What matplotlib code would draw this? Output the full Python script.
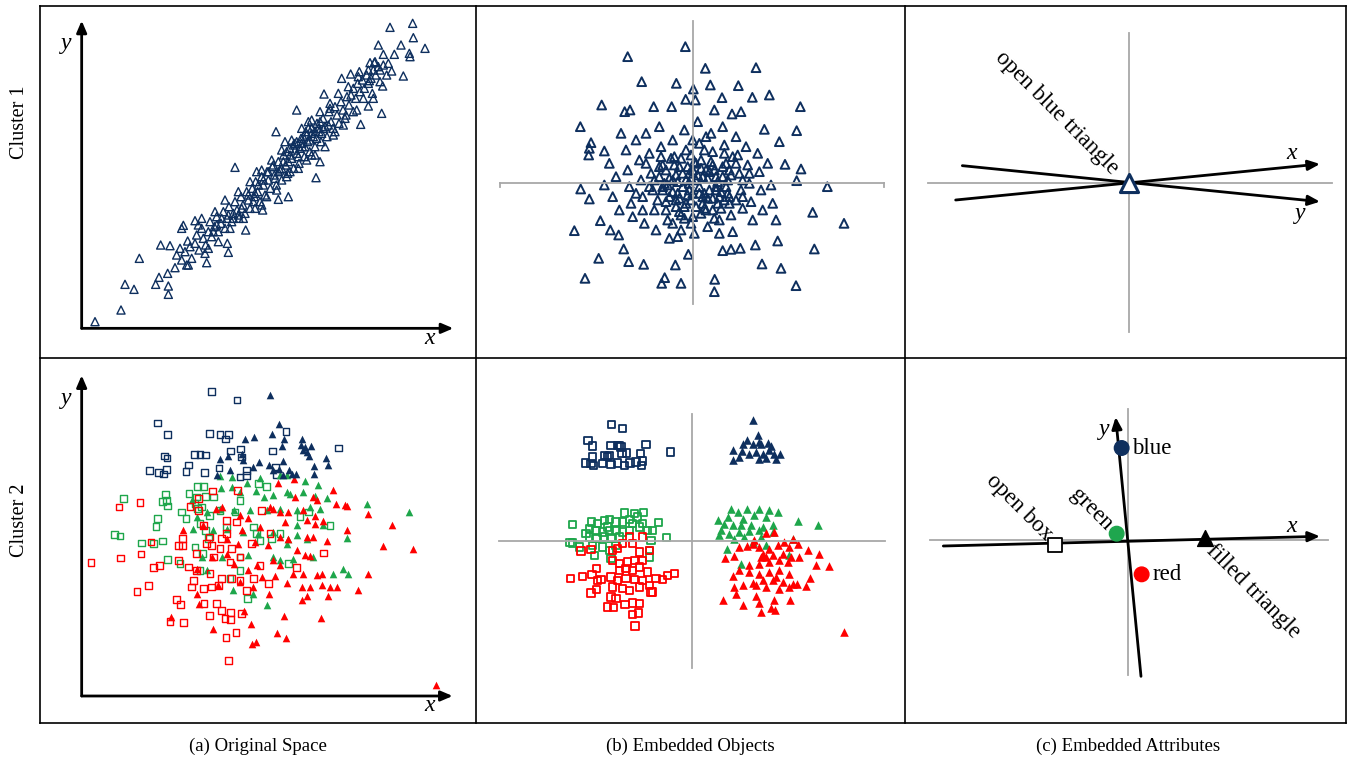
import numpy as np
import matplotlib.pyplot as plt

plt.rcParams['font.family'] = ['Liberation Serif', 'DejaVu Serif']

W, H = 1351, 764
navy = '#0e2f5e'
green = '#1ea64b'
red = '#ff0000'
gray = '#a8a8a8'

# ---- data (panel-local units, origin at the axes crossing) ----

# (a) cluster 1: original space
a1_pts = np.array([
    (40,20),(118,55),(130,132),(157,117),(173,210),(222,132),(232,153),(260,127),(260,102),(258,165),
    (237,250),(265,248),(280,182),(315,190),(375,197),(440,228),(437,255),(305,309),(340,323),(460,483),
    (583,590),(645,655),(727,703),(703,452),(715,500),(620,395),(590,387),(543,355),(492,295),(837,612),
    (900,645),(965,757),(925,903),(993,915),(995,872),(958,850),(1030,840),(890,850),(905,822),(938,822),
    (983,825),(985,815),(780,750),(807,763),(833,770),(863,743),(865,797),(878,797),(920,795),(930,772),
    (895,775),(903,727),(875,690),(860,667),(825,655),(793,640),
    (285,220),(295,240),(300,205),(310,230),(318,262),(325,245),(330,210),(340,255),(345,280),(352,235),
    (360,300),(365,270),(372,250),(380,290),(385,320),(390,275),(398,305),(405,335),(410,290),(418,315),
    (425,350),(430,300),(436,330),(442,365),(450,320),(455,345),(460,380),(466,355),(472,330),(478,395),
    (484,370),(490,345),(495,410),(500,385),(505,360),(512,420),(518,395),(522,440),(528,410),(535,380),
    (540,455),(545,430),(550,400),(556,470),(560,445),(566,420),(572,485),(578,460),(584,430),(590,500),
    (595,475),(600,445),(606,520),(612,490),(618,465),(624,540),(630,510),(636,480),(640,555),(646,525),
    (652,495),(658,570),(662,545),(668,515),(672,590),(678,560),(684,530),(690,600),(695,575),(700,545),
    (706,615),(712,590),(718,560),(724,630),(730,605),(736,575),(742,650),(748,620),(754,600),(760,665),
    (766,640),(772,615),(778,680),(784,655),(790,630),(796,695),(802,670),(808,700),(815,720),(822,690),
    (828,735),(835,710),(842,745),(848,720),(855,760),(860,735),(868,750),(875,775),(882,760),(890,785),
    (560,470),(575,490),(590,470),(605,500),(615,530),(625,520),(635,550),(645,560),(655,540),(665,575),
    (675,580),(685,565),(690,585),(700,590),(710,600),(720,585),(620,500),(600,480),(580,450),(640,535),
    (650,515),(660,555),(670,545),(680,600),(705,570),(715,620),(725,600),(740,610),(470,340),(480,360),
    (500,400),(515,380),(530,430),(545,445),(520,405),(455,330),(440,340),(420,330),(405,310),(395,290),
    (300,300),(320,190),(350,310),(370,225),(400,350),(410,260),(430,385),(445,300),(470,410),(485,330),
    (505,440),(520,360),(540,475),(555,395),(570,505),(585,415),(600,535),(615,455),(630,565),(650,480),
    (660,600),(675,505),(690,625),(700,520),(715,650),(730,545),(745,675),(760,590),(770,705),(785,610),
    (800,725),(815,650),(830,755),(845,690),(860,775),(872,705),(880,800),(895,740),(905,790),(915,760),
    (360,330),(380,240),(525,470),(540,370),(610,560),(625,470),(680,620),(690,520),(745,660),(755,580),
])

# (b) cluster 1: embedded objects
b1_pts = np.array([
    (-22,410),(-195,380),(38,345),(190,347),(-153,305),(-49,300),(53,295),(137,293),(2,283),(230,265),
    (179,258),(88,257),(-273,235),(-21,252),(8,250),(323,230),(-337,170),(-204,215),(-188,220),(-117,230),
    (-63,230),(65,220),(118,208),(145,215),(312,158),(215,162),(-305,122),(-310,105),(-312,85),(-265,97),
    (260,125),(277,57),(325,43),(312,8),(404,-10),(360,-87),(454,-120),(365,-197),(255,-173),(310,-307),
    (265,-255),(208,-242),(-355,-142),(-282,-225),(-323,-285),(-192,-235),(-147,-243),(-84,-283),(-93,-300),
    (-35,-300),(-52,-245),(66,-288),(65,-325),(-13,-213),(-207,-197),(-336,-17),(-310,-47),(-277,-112),
    (-247,-140),(-222,-155),(188,-185),(115,-198),(90,-202),(143,-195),
    (-250,60),(-230,20),(-240,-40),(-220,-80),(-200,100),(-195,40),(-190,-10),(-185,-60),(-180,-100),(-170,130),
    (-160,70),(-155,10),(-150,-40),(-145,-120),(-140,150),(-130,90),(-125,30),(-120,-20),(-115,-80),(-110,-140),
    (-100,170),(-95,110),(-90,55),(-85,0),(-80,-55),(-75,-110),(-70,-165),(-60,130),(-55,80),(-50,25),
    (-45,-30),(-40,-85),(-35,-140),(-25,160),(-20,100),(-15,50),(-10,0),(-5,-50),(0,-100),(5,-150),
    (15,185),(20,120),(25,70),(30,20),(35,-30),(40,-80),(45,-130),(55,150),(60,95),(65,40),
    (70,-10),(75,-60),(80,-110),(90,170),(95,115),(100,60),(105,10),(110,-40),(115,-95),(120,-145),
    (130,140),(135,85),(140,30),(145,-20),(150,-75),(160,110),(165,55),(170,0),(175,-55),(180,-110),
    (195,90),(200,35),(205,-20),(210,-80),(225,60),(235,-5),(240,-60),(250,-110),(-265,-5),(-215,150),
    (-100,20),(-90,-20),(-80,40),(-70,-40),(-60,10),(-50,-70),(-40,50),(-30,-10),(-20,-60),(-10,30),
    (0,-30),(10,60),(20,-10),(30,-60),(40,40),(50,-20),(60,-80),(70,20),(80,-40),(90,50),
    (100,-10),(110,-60),(-75,-5),(-45,5),(-15,-35),(15,25),(45,-45),(75,5),(105,-30),(-65,75),
    (-35,-95),(-5,85),(25,-90),(55,65),(85,-75),(115,25),(-105,-50),(130,-50),(-25,-105),(65,-105),
    (-95,80),(35,100),(-5,-120),(95,90),(-130,-10),(150,10),(120,80),(-60,-120),(10,-70),(-35,75),
    (-90,-10),(-70,15),(-50,-50),(-30,30),(-10,-20),(10,10),(30,-40),(50,35),(70,-20),(90,20),
    (-80,-80),(-55,55),(-25,-70),(5,65),(35,-75),(60,55),(85,-25),(110,40),(-115,10),(-20,10),
    (0,40),(20,-30),(45,15),(-60,-25),(60,-45),(-5,15),(25,45),(-40,-45),(95,-50),(-100,50),
    (130,60),(150,-40),(-140,60),(-150,-80),(170,30),(-170,-30),(0,130),(40,140),(-45,-160),(80,-150),
])

# (a) cluster 2: original space
a2_blue_sq = np.array([
    (390,914),(466,888),(227,819),(258,785),(383,788),(415,784),(441,784),(432,771),(613,793),(770,744),
    (446,735),(476,741),(572,735),(248,720),(256,714),(338,725),(355,724),(372,723),(320,693),(203,676),
    (230,671),(246,666),(255,680),(313,674),(368,670),(412,684),(495,677),(582,687),(584,665),(475,657),
    (480,717),(495,662),
])
a2_blue_tri = np.array([
    (566,904),(593,817),(489,772),(518,777),(570,787),(608,772),(602,749),(660,772),(658,752),(670,747),
    (687,749),(675,732),(683,719),(440,719),(415,712),(480,727),(485,709),(533,702),(562,692),(603,705),
    (592,682),(623,677),(642,667),(697,689),(697,667),(733,715),(740,692),(445,677),(407,662),(515,687),
    (605,662),(630,667),(575,677),(665,737),
])
a2_green_sq = np.array([
    (125,592),(98,485),(115,480),(180,459),(215,457),(242,465),(258,409),(223,509),(228,532),(251,605),
    (258,570),(242,584),(255,587),(322,607),(347,629),(365,629),(345,597),(372,599),(300,552),(313,532),
    (340,577),(347,562),(360,567),(383,542),(355,517),(372,497),(380,472),(340,447),(363,427),(355,377),
    (445,352),(475,377),(498,292),(515,507),(525,487),(535,467),(530,637),(555,629),(460,552),(475,587),
    (435,507),(745,511),(680,552),(655,539),(620,397),(595,487),(570,472),(295,397),(475,417),(415,557),
    (395,597),
])
a2_green_tri = np.array([
    (415,659),(452,657),(497,639),(535,655),(595,662),(617,662),(670,644),(710,634),(418,624),(450,627),
    (475,612),(522,614),(547,597),(575,604),(615,612),(625,605),(665,612),(700,599),(735,594),(855,577),
    (983,552),(330,587),(345,537),(375,552),(415,562),(458,557),(505,557),(555,557),(595,562),(645,557),
    (685,567),(715,562),(335,502),(395,497),(435,502),(485,492),(530,487),(575,492),(645,482),(675,472),
    (725,512),(795,474),(360,417),(420,417),(500,422),(575,417),(635,412),(695,417),(785,380),(800,365),
    (755,367),(455,317),(515,305),(555,272),(595,407),(375,377),(615,457),(645,512),(620,472),
])
a2_red_sq = np.array([
    (28,400),(112,567),(175,580),(116,414),(178,426),(208,462),(215,385),(233,392),(166,314),(201,332),
    (285,290),(297,275),(265,224),(306,221),(290,451),(303,451),(290,407),(303,472),(325,569),(350,592),
    (393,615),(468,617),(365,512),(383,477),(420,472),(435,487),(450,442),(415,442),(390,452),(345,427),
    (320,387),(335,347),(365,322),(390,327),(345,377),(385,367),(410,332),(420,352),(450,352),(475,347),
    (405,277),(420,257),(447,250),(430,232),(447,229),(480,247),(383,242),(463,191),(433,175),(440,106),
    (725,429),(645,385),(565,487),(540,557),(535,392),(560,337),(495,317),(515,352),(367,277),(330,327),
    (395,417),(445,402),(475,417),(510,457),(465,522),(435,527),(350,557),(375,457),
])
a2_red_tri = np.array([
    (588,639),(637,652),(755,617),(640,597),(693,597),(763,577),(790,572),(795,570),(705,587),(403,562),
    (420,567),(475,542),(500,535),(565,567),(575,560),(595,552),(620,552),(610,522),(665,557),(675,529),
    (700,539),(700,517),(723,524),(795,497),(930,513),(903,450),(993,442),(860,545),(303,497),(365,514),
    (392,417),(435,472),(470,457),(520,462),(560,452),(595,477),(620,472),(675,477),(695,477),(737,464),
    (645,437),(670,422),(685,419),(575,407),(595,392),(635,367),(665,367),(705,362),(720,367),(860,367),
    (345,382),(410,332),(475,342),(515,327),(540,357),(580,359),(615,340),(660,327),(685,327),(720,332),
    (745,327),(765,327),(830,317),(345,307),(353,277),(487,255),(608,239),(717,235),(268,237),(395,202),
    (507,217),(587,189),(613,174),(510,155),(523,162),(740,299),(675,299),(660,287),(563,305),(1063,34),
    (458,397),(525,392),(480,497),(535,507),(435,427),(500,377),
])

# (b) cluster 2: embedded objects
b2_blue_sq = np.array([
    (-242,349),(-208,337),(-312,302),(-298,285),(-243,287),(-223,287),(-213,282),(-138,290),(-65,267),
    (-263,257),(-248,257),(-210,262),(-196,264),(-155,262),(-298,252),(-303,232),(-320,234),(-296,227),
    (-268,232),(-243,230),(-223,234),(-203,227),(-186,234),(-168,237),(-151,227),(-148,240),(-253,254),
    (-218,287),
])
b2_blue_tri = np.array([
    (183,362),(197,317),(164,302),(152,290),(182,292),(207,292),(227,294),(237,284),(124,272),(150,270),
    (172,262),(192,267),(212,262),(247,260),(264,262),(122,244),(142,252),(202,247),(222,249),(252,247),
    (202,297),(232,272),
])
b2_green_sq = np.array([
    (-358,49),(-366,-5),(-358,-6),(-301,57),(-263,62),(-248,64),(-203,84),(-173,82),(-145,85),(-228,57),
    (-208,57),(-188,64),(-100,55),(-118,32),(-133,32),(-76,10),(-123,2),(-308,37),(-288,32),(-268,27),
    (-248,32),(-228,32),(-208,27),(-188,32),(-158,42),(-308,12),(-288,7),(-263,12),(-243,7),(-218,12),
    (-298,-13),(-268,-18),(-248,-28),(-293,-43),(-163,72),(-148,52),(-178,52),(-128,-28),(-128,-48),
    (-338,-18),(-243,-53),(-228,-13),(-283,52),(-253,42),(-318,22),
])
b2_green_tri = np.array([
    (117,97),(137,87),(164,97),(202,97),(232,92),(257,87),(107,72),(152,67),(187,77),(222,72),
    (77,62),(97,52),(122,47),(147,47),(177,47),(212,42),(242,47),(87,32),(112,22),(142,27),
    (172,30),(202,32),(242,27),(82,17),(127,7),(157,12),(317,59),(377,47),(104,-23),(147,-68),
    (292,-43),(302,7),(182,-3),(207,12),(222,-13),
])
b2_red_sq = np.array([
    (-333,-30),(-303,-26),(-365,-113),(-328,-106),(-300,-100),(-286,-83),(-273,-116),(-238,-28),(-223,-23),
    (-208,-8),(-188,12),(-148,12),(-178,-8),(-158,-33),(-128,-28),(-238,-58),(-218,-68),(-193,-63),
    (-173,-58),(-148,-58),(-218,-88),(-198,-83),(-178,-88),(-158,-78),(-133,-93),(-108,-113),(-88,-116),
    (-73,-103),(-53,-98),(-243,-108),(-223,-118),(-198,-113),(-173,-116),(-148,-118),(-128,-133),
    (-238,-138),(-208,-143),(-188,-148),(-158,-138),(-123,-153),(-303,-156),(-286,-146),(-243,-168),
    (-228,-173),(-201,-190),(-178,-186),(-158,-188),(-253,-198),(-236,-200),(-178,-221),(-161,-216),
    (-171,-255),(-283,-118),(-118,-153),
])
b2_red_tri = np.array([
    (187,4),(222,24),(247,27),(302,7),(317,-8),(347,-26),(382,-40),(142,-18),(164,-16),(202,-18),
    (232,-23),(257,-13),(277,-3),(292,-18),(212,-38),(242,-43),(272,-38),(297,-48),(322,-48),(372,-71),
    (412,-76),(100,-51),(127,-45),(172,-73),(202,-68),(232,-63),(262,-58),(287,-63),(142,-88),(172,-93),
    (202,-98),(232,-93),(262,-88),(292,-98),(354,-110),(122,-105),(152,-131),(182,-126),(212,-118),
    (242,-118),(272,-123),(302,-128),(342,-136),(127,-138),(132,-158),(192,-133),(222,-138),(262,-143),
    (292,-138),(314,-130),(192,-166),(247,-176),(294,-176),(92,-176),(200,-186),(237,-200),(249,-206),
    (207,-213),(152,-193),(456,-273),(182,-8),(222,-48),(252,-108),(207,-48),
])

# (c) embedded attributes (x/y attribute directions and feature points)
c1_x_dir = [(-520,-52),(573,56)]
c1_y_dir = [(-500,51),(573,-57)]
c2_x_dir = [(-555,-15),(575,14)]
c2_y_dir = [(38,-406),(-38,372)]
c2_colors = ['blue','green','red']
c2_color_pos = [(-20,279),(-35,22),(40,-100)]
c2_box_pos = (-220,-11)
c2_tri_pos = (230,9)

row_labels = ['Cluster 1','Cluster 2']
captions = ['(a) Original Space','(b) Embedded Objects','(c) Embedded Attributes']

# ---- layout ----
fig = plt.figure(figsize=(W/100, H/100), dpi=100)

def panel(x0, y0, x1, y1, ox, oy, k=3):
    ax = fig.add_axes([x0/W, 1-y1/H, (x1-x0)/W, (y1-y0)/H])
    ax.set_xlim((x0-ox)*k, (x1-ox)*k)
    ax.set_ylim((oy-y1)*k, (oy-y0)*k)
    ax.axis('off')
    return ax

def arrow(ax, p0, p1, lw=2.0):
    ax.annotate('', xy=p1, xytext=p0,
                arrowprops=dict(arrowstyle='-|>,head_length=0.7,head_width=0.3',
                                lw=lw, color='black', shrinkA=0, shrinkB=0))

# frame
bg = fig.add_axes([0, 0, 1, 1])
bg.set_xlim(0, W); bg.set_ylim(H, 0); bg.axis('off')
for x in [40, 476, 905, 1346]:
    bg.plot([x, x], [6, 723], color='black', lw=1.2)
for y in [6, 358, 723]:
    bg.plot([40, 1346], [y, y], color='black', lw=1.2)
bg.text(19, 122, row_labels[0], rotation=90, ha='center', va='center', fontsize=14.5)
bg.text(19, 520, row_labels[1], rotation=90, ha='center', va='center', fontsize=14.5)
for cx, cap in zip([258, 690, 1128], captions):
    bg.text(cx, 746, cap, ha='center', va='center', fontsize=13.5)

# (a) cluster 1
ax = panel(40, 6, 476, 358, 81.67, 328.33)
arrow(ax, (0, 0), (1115, 0)); arrow(ax, (0, 0), (0, 923))
ax.text(-45, 855, 'y', style='italic', fontsize=17, ha='center', va='center')
ax.text(1045, -30, 'x', style='italic', fontsize=17, ha='center', va='center')
ax.scatter(a1_pts[:, 0], a1_pts[:, 1], marker='^', s=34, facecolors='none',
           edgecolors=navy, linewidths=1.0)

# (b) cluster 1
ax = panel(476, 6, 905, 358, 692.67, 183.33)
ax.plot([0, 0], [-362, 488], color=gray, lw=1.3)
ax.plot([-577, 575], [0, 0], color=gray, lw=1.3)
ax.plot([-577, -577], [0, -12], color=gray, lw=1.3)
ax.plot([575, 575], [0, -12], color=gray, lw=1.3)
ax.scatter(b1_pts[:, 0], b1_pts[:, 1], marker='^', s=40, facecolors='none',
           edgecolors=navy, linewidths=1.4)

# (c) cluster 1
ax = panel(905, 6, 1346, 358, 1129, 182.67)
ax.plot([0, 0], [-447, 448], color=gray, lw=1.3)
ax.plot([-604, 608], [0, 0], color=gray, lw=1.3)
arrow(ax, *c1_x_dir); arrow(ax, *c1_y_dir)
ax.text(488, 88, 'x', style='italic', fontsize=17, ha='center', va='center')
ax.text(513, -92, 'y', style='italic', fontsize=17, ha='center', va='center')
ax.scatter([0], [-2], marker='^', s=170, facecolors='white', edgecolors=navy,
           linewidths=2.2, zorder=5)
ax.text(-217, 208, 'open blue triangle', rotation=-45, ha='center', va='center',
        fontsize=16.5, rotation_mode='anchor')

# (a) cluster 2
ax = panel(40, 358, 476, 723, 81.67, 696)
arrow(ax, (0, 0), (1113, 0)); arrow(ax, (0, 0), (0, 962))
ax.text(-45, 892, 'y', style='italic', fontsize=17, ha='center', va='center')
ax.text(1045, -28, 'x', style='italic', fontsize=17, ha='center', va='center')
ax.scatter(a2_blue_sq[:, 0], a2_blue_sq[:, 1], marker='s', s=24, facecolors='none',
           edgecolors=navy, linewidths=1.0)
ax.scatter(a2_green_sq[:, 0], a2_green_sq[:, 1], marker='s', s=24, facecolors='none',
           edgecolors=green, linewidths=1.0)
ax.scatter(a2_green_tri[:, 0], a2_green_tri[:, 1], marker='^', s=30, color=green, linewidths=0)
ax.scatter(a2_red_sq[:, 0], a2_red_sq[:, 1], marker='s', s=24, facecolors='none',
           edgecolors=red, linewidths=1.0)
ax.scatter(a2_red_tri[:, 0], a2_red_tri[:, 1], marker='^', s=30, color=red, linewidths=0)
ax.scatter(a2_blue_tri[:, 0], a2_blue_tri[:, 1], marker='^', s=30, color=navy, linewidths=0)

# (b) cluster 2
ax = panel(476, 358, 905, 723, 692, 541)
ax.plot([0, 0], [-380, 380], color=gray, lw=1.3)
ax.plot([-580, 580], [0, 0], color=gray, lw=1.3)
ax.scatter(b2_blue_sq[:, 0], b2_blue_sq[:, 1], marker='s', s=28, facecolors='none',
           edgecolors=navy, linewidths=1.3)
ax.scatter(b2_blue_tri[:, 0], b2_blue_tri[:, 1], marker='^', s=38, color=navy, linewidths=0)
ax.scatter(b2_green_sq[:, 0], b2_green_sq[:, 1], marker='s', s=28, facecolors='none',
           edgecolors=green, linewidths=1.3)
ax.scatter(b2_red_sq[:, 0], b2_red_sq[:, 1], marker='s', s=28, facecolors='none',
           edgecolors=red, linewidths=1.3)
ax.scatter(b2_green_tri[:, 0], b2_green_tri[:, 1], marker='^', s=38, color=green, linewidths=0)
ax.scatter(b2_red_tri[:, 0], b2_red_tri[:, 1], marker='^', s=38, color=red, linewidths=0)

# (c) cluster 2
ax = panel(905, 358, 1346, 723, 1128.33, 541)
ax.plot([0, 0], [-403, 397], color=gray, lw=1.3)
ax.plot([-595, 600], [2, 2], color=gray, lw=1.3)
arrow(ax, *c2_x_dir); arrow(ax, *c2_y_dir)
ax.text(490, 42, 'x', style='italic', fontsize=17, ha='center', va='center')
ax.text(-73, 334, 'y', style='italic', fontsize=17, ha='center', va='center')
pos = np.array(c2_color_pos)
ax.scatter(pos[:, 0], pos[:, 1], s=110, c=[navy, '#1fa64e', red], zorder=5)
ax.text(pos[0, 0] + 30, pos[0, 1], c2_colors[0], ha='left', va='center', fontsize=16.5)
ax.text(pos[2, 0] + 32, pos[2, 1], c2_colors[2], ha='left', va='center', fontsize=16.5)
ax.text(-110, 94, c2_colors[1], rotation=-45, ha='center', va='center', fontsize=16.5,
        rotation_mode='anchor')
ax.scatter([c2_box_pos[0]], [c2_box_pos[1]], marker='s', s=110, facecolors='white',
           edgecolors='black', linewidths=1.3, zorder=5)
ax.text(-328, 102, 'open box', rotation=-45, ha='center', va='center', fontsize=16.5,
        rotation_mode='anchor')
ax.scatter([c2_tri_pos[0]], [c2_tri_pos[1]], marker='^', s=130, color='black', zorder=5)
ax.text(375, -150, 'filled triangle', rotation=-45, ha='center', va='center', fontsize=16.5,
        rotation_mode='anchor')

plt.savefig('out.png', dpi=100)
